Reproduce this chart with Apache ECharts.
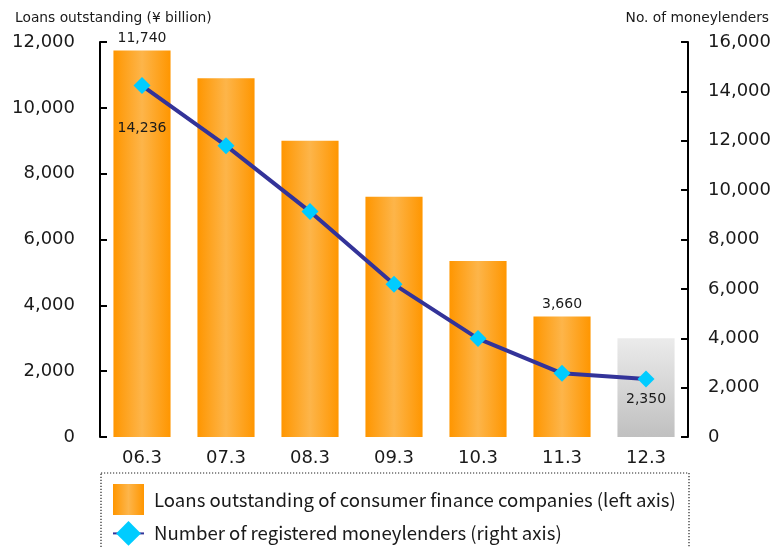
<!DOCTYPE html>
<html>
<head>
<meta charset="utf-8">
<script src="https://cdn.jsdelivr.net/npm/echarts@6/dist/echarts.min.js"></script>
<style>
  html, body { margin: 0; padding: 0; background: #fff; }
  #chart { width: 774px; height: 547px; }
</style>
</head>
<body>
<div id="chart"></div>
<script>
// Fiscal year-end categories
const categories = ['06.3', '07.3', '08.3', '09.3', '10.3', '11.3', '12.3'];
// Loans outstanding of consumer finance companies (¥ billion); 12.3 is a grey placeholder
const loans = [11740, 10900, 9000, 7300, 5350, 3660, 3000];
// Number of registered moneylenders
const lenders = [14236, 11800, 9130, 6185, 3985, 2580, 2350];
// Which points carry a value label
const loanLabelShown = [true, false, false, false, false, true, false];
const lenderLabelShown = [true, false, false, false, false, false, true];
// Axis ticks
const leftTicks = { min: 0, max: 12000, interval: 2000 };
const rightTicks = { min: 0, max: 16000, interval: 2000 };

const numFont = 'DejaVu Sans';
const legendFont = '"Noto Sans CJK JP", Lato, sans-serif';
const fmt = v => v.toLocaleString('en-US');

const orangeFill = new echarts.graphic.LinearGradient(0, 0, 1, 0, [
  { offset: 0, color: '#FF9600' },
  { offset: 0.5, color: '#FDB54A' },
  { offset: 1, color: '#FF9600' }
]);
const greyFill = new echarts.graphic.LinearGradient(0, 0, 0, 1, [
  { offset: 0, color: '#EBEBEB' },
  { offset: 1, color: '#C0C0C0' }
]);

const barData = loans.map((v, i) => {
  const placeholder = i === loans.length - 1;
  return {
    value: v,
    itemStyle: { color: placeholder ? greyFill : orangeFill },
    label: { show: loanLabelShown[i] }
  };
});
const lineData = lenders.map((v, i) => ({
  value: v,
  label: { show: lenderLabelShown[i], distance: i === 0 ? 27 : 5 }
}));

const chart = echarts.init(document.getElementById('chart'), null, { renderer: 'canvas' });
chart.setOption({
  animation: false,
  backgroundColor: '#ffffff',
  title: [
    { text: 'Loans outstanding (¥ billion)', left: 10, top: 6,
      textStyle: { fontFamily: numFont, fontSize: 13.8, fontWeight: 'normal', color: '#1a1a1a' } },
    { text: 'No. of moneylenders', right: 0, top: 6,
      textStyle: { fontFamily: numFont, fontSize: 13.8, fontWeight: 'normal', color: '#1a1a1a' } }
  ],
  grid: { left: 100, right: 84, top: 42, bottom: 110, containLabel: false },
  legend: {
    orient: 'vertical',
    left: 112, top: 484, padding: 0,
    itemWidth: 31, itemHeight: 31, itemGap: 6,
    textStyle: { fontFamily: legendFont, fontSize: 18.6, color: '#1a1a1a', padding: [0, 0, 0, 5] },
    data: [
      { name: 'Loans outstanding of consumer finance companies (left axis)', icon: 'rect',
        itemStyle: { color: orangeFill } },
      { name: 'Number of registered moneylenders (right axis)' }
    ]
  },
  graphic: [{
    type: 'rect',
    shape: { x: 101, y: 473, width: 588, height: 100 },
    style: { fill: 'none', stroke: '#222', lineWidth: 1.2, lineDash: [1.2, 1.8] },
    silent: true
  }],
  xAxis: {
    type: 'category',
    data: categories,
    axisLine: { show: false },
    axisTick: { show: false },
    axisLabel: { fontFamily: numFont, fontSize: 18, color: '#1a1a1a', margin: 12 }
  },
  yAxis: [
    {
      type: 'value', position: 'left', ...leftTicks,
      axisLine: { show: true, lineStyle: { color: '#000', width: 2 } },
      axisTick: { show: true, inside: true, length: 7, lineStyle: { color: '#000', width: 2 } },
      splitLine: { show: false },
      axisLabel: { fontFamily: numFont, fontSize: 18, color: '#1a1a1a', margin: 25, formatter: fmt }
    },
    {
      type: 'value', position: 'right', ...rightTicks,
      axisLine: { show: true, lineStyle: { color: '#000', width: 2 } },
      axisTick: { show: true, inside: true, length: 7, lineStyle: { color: '#000', width: 2 } },
      splitLine: { show: false },
      axisLabel: { fontFamily: numFont, fontSize: 18, color: '#1a1a1a', margin: 20, formatter: fmt }
    }
  ],
  series: [
    {
      name: 'Loans outstanding of consumer finance companies (left axis)',
      type: 'bar',
      yAxisIndex: 0,
      barWidth: '68%',
      data: barData,
      label: {
        position: 'top', distance: 5,
        fontFamily: numFont, fontSize: 14, color: '#1a1a1a',
        formatter: p => fmt(p.value)
      },
      z: 1
    },
    {
      name: 'Number of registered moneylenders (right axis)',
      type: 'line',
      yAxisIndex: 1,
      data: lineData,
      symbol: 'diamond',
      symbolSize: 17,
      lineStyle: { color: '#333399', width: 4 },
      itemStyle: { color: '#00CCFF', borderWidth: 0 },
      label: {
        position: 'bottom',
        fontFamily: numFont, fontSize: 14, color: '#1a1a1a',
        formatter: p => fmt(p.value)
      },
      z: 3
    }
  ]
});
</script>
</body>
</html>
